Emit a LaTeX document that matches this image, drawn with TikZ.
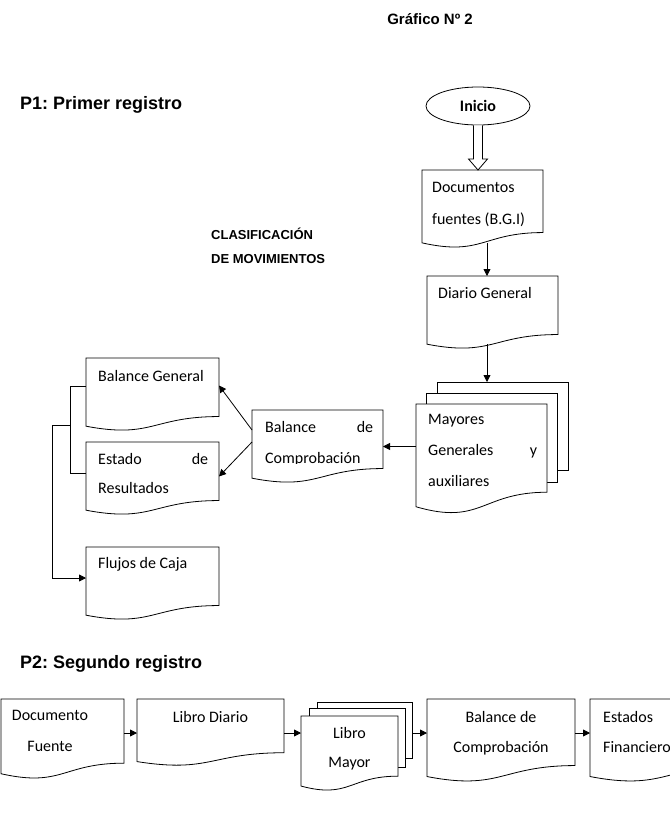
\documentclass[tikz,border=0pt]{standalone}
\usepackage{fontspec}
\newfontfamily\carl{Carlito}
\newfontfamily\arial{Liberation Sans}
\usetikzlibrary{arrows.meta,calc,shapes.geometric}
\frenchspacing

% outline of a flowchart "document" shape over a named rectangle node
\newcommand\docoutline[1]{%
  \draw[line, fill=white] (#1.north west) -- (#1.north east)
    -- ($(#1.north east)!0.802!(#1.south east)$)
    .. controls ($(#1.north)!0.802!(#1.south)$) and ($(#1.north)!1.1075!(#1.south)$)
    .. ($(#1.north west)!0.934!(#1.south west)$) -- cycle;}
% name, left, top, width, height
\newcommand\docnode[5]{%
  \node[box, minimum width=#4pt, minimum height=#5pt] (#1) at (#2,#3) {};
  \docoutline{#1}}
% plain back page of a stacked document
\newcommand\pagenode[5]{%
  \node[box, line, fill=white, minimum width=#4pt, minimum height=#5pt] (#1) at (#2,#3) {};}

\begin{document}
\begin{tikzpicture}[x=1pt, y=-1pt,
  line/.style={draw=black, line width=0.8pt},
  arr/.style={line, -{Triangle[length=7pt,width=7pt]}},
  box/.style={inner sep=0pt, outer sep=0pt, anchor=north west},
  txt/.style={font=\carl\fontsize{16}{31}\selectfont, inner sep=0pt, anchor=north west, align=left},
  ctxt/.style={txt, anchor=north, align=center},
  head/.style={font=\arial\bfseries\fontsize{18}{22}\selectfont, inner sep=0pt, anchor=base west},
  small/.style={font=\arial\bfseries\fontsize{13}{16}\selectfont, inner sep=0pt, anchor=base west}]

\useasboundingbox (0,0) rectangle (670,823);
\clip (0,0) rectangle (670,823);

% headings
\node[font=\arial\bfseries\fontsize{15}{18}\selectfont, inner sep=0pt, anchor=base] (title) at (430,24) {Gráfico Nº 2};
\node[head] (p1) at (20,109) {P1: Primer registro};
\node[head] (p2) at (20,668) {P2: Segundo registro};
\node[small] (cl1) at (211,239) {CLASIFICACIÓN};
\node[small] (cl2) at (211,263) {DE MOVIMIENTOS};

% ---------- P1 ----------
\node[ellipse, line, fill=white, minimum width=104pt, minimum height=38pt, inner sep=0pt,
      font=\carl\bfseries\fontsize{16}{19}\selectfont] (ini) at (478,106) {Inicio};

\docnode{doc1}{422}{170}{121}{78}
\node[txt, font=\carl\fontsize{16}{32}\selectfont] (t-doc1) at ($(doc1.north west)+(10,12)$) {Documentos\\fuentes (B.G.I)};

\docnode{dia}{427}{276}{131}{73}
\node[txt] (t-dia) at ($(dia.north west)+(11,11)$) {Diario General};

\pagenode{mb3}{437}{382}{131}{88}
\pagenode{mb2}{426}{393}{131}{89}
\docnode{mf}{416}{404}{131}{110}
\node[txt, text width=109pt] (t-mf) at ($(mf.north west)+(12,10)$) {Mayores\\Generales\hfill y\\auxiliares};

\docnode{bal}{252}{410}{131}{73}
\begin{scope}
  \clip (bal.north west) rectangle ($(bal.north east)+(0,53)$);
  \node[txt, text width=108pt] (t-bal) at ($(bal.north west)+(13,11)$) {Balance\hfill de\\Comprobación};
\end{scope}

\docnode{bg}{86}{358}{133}{73}
\node[txt] (t-bg) at ($(bg.north west)+(12,12)$) {Balance General};

\docnode{er}{86}{442}{133}{73}
\node[txt, text width=110pt, font=\carl\fontsize{16}{29}\selectfont] (t-er) at ($(er.north west)+(12,11)$) {Estado\hfill de\\Resultados};

\docnode{fc}{86}{547}{133}{73}
\node[txt] (t-fc) at ($(fc.north west)+(12,10)$) {Flujos de Caja};

% connectors P1
\coordinate (tip) at (ini.south |- doc1.north);
\draw[line, fill=white] ($(ini.south)+(-4.5,0)$) -- ($(tip)+(-4.5,-11)$) -- ++(-5,0)
  -- (tip) -- ++(9.5,-11) -- ++(-5,0) -- ($(ini.south)+(4.5,0)$);
\draw[arr] ($(doc1.north west)+(65,73)$) -- ($(dia.north west)+(60,0)$);
\coordinate (dx) at ($(dia.north west)+(60,68)$);
\draw[arr] (dx) -- (dx |- mb3.north);
\draw[arr] (bal.east -| mf.west) -- (bal.east);
\draw[arr] ($(bal.north west)+(0,20)$) -- ($(bg.east)+(0,-9)$);
\draw[arr] ($(bal.north west)+(0,32)$) -- ($(er.east)+(0,-2)$);
\draw[line] ($(bg.north west)+(0,28)$) -- ++(-16,0) |- ($(er.north west)+(0,31)$);
\draw[arr] ($(bg.north west)+(-16,67)$) -- ++(-18,0) |- ($(fc.north west)+(0,31)$);

% ---------- P2 ----------
\docnode{df}{1}{699}{123}{80}
\node[ctxt] (t-df) at ($(df.north west)+(49,11)$) {Documento\\Fuente};

\docnode{ld}{137}{699}{147}{67}
\node[ctxt] (t-ld) at ($(ld.north)+(0,12)$) {Libro Diario};

\pagenode{lb3}{317}{702}{95}{56}
\pagenode{lb2}{309}{708}{96}{59}
\docnode{lmf}{301}{716}{97}{75}
\node[ctxt, font=\carl\fontsize{16}{29}\selectfont] (t-lm) at ($(lmf.north)+(0,11)$) {Libro\\Mayor};

\docnode{bc2}{427}{699}{148}{83}
\node[ctxt, font=\carl\fontsize{16}{30}\selectfont] (t-bc2) at ($(bc2.north)+(0,12)$) {Balance de\\Comprobación};

\docnode{ef}{590}{699}{150}{83}
\node[txt, font=\carl\fontsize{16}{30}\selectfont] (t-ef) at ($(ef.north west)+(13,12)$) {Estados\\Financieros};

% connectors P2
\draw[arr] ($(df.north east)+(0,34)$) -- ($(ld.north west)+(0,34)$);
\draw[arr] ($(ld.north east)+(0,34)$) -- ($(lmf.north west)+(0,17)$);
\draw[arr] ($(lb3.north east)+(0,31)$) -- ($(bc2.north west)+(0,34)$);
\draw[arr] ($(bc2.north east)+(0,34)$) -- ($(ef.north west)+(0,34)$);
\end{tikzpicture}
\end{document}
